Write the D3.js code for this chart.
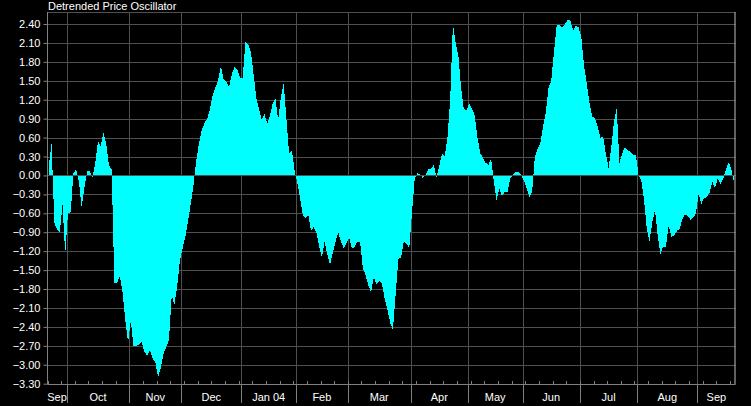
<!DOCTYPE html>
<html><head><meta charset="utf-8">
<script src="https://cdn.jsdelivr.net/npm/d3@7"></script>
<style>html,body{margin:0;padding:0;background:#000;}svg{display:block;}</style>
</head><body>
<script>
const monthLabels = ["Sep","Oct","Nov","Dec","Jan 04","Feb","Mar","Apr","May","Jun","Jul","Aug","Sep"];
const monthDays = [7,23,19,22,20,19,23,21,20,21,21,22,14];
const yTicks = [2.4,2.1,1.8,1.5,1.2,0.9,0.6,0.3,0,-0.3,-0.6,-0.9,-1.2,-1.5,-1.8,-2.1,-2.4,-2.7,-3.0,-3.3];
const dpo = [
0.17,0.51,-0.75,-0.85,-0.9,-0.47,-1.25,-0.6,-0.58,0.03,
0.1,-0.1,-0.5,-0.2,0.07,0.07,-0.03,0.2,0.55,0.46,
0.68,0.5,0.16,0.1,-1.7,-1.7,-1.6,-1.85,-2.3,-2.65,
-2.3,-2.7,-2.7,-2.68,-2.64,-2.8,-2.85,-2.77,-2.9,-2.96,
-3.2,-3.05,-2.82,-2.72,-2.6,-1.9,-2.05,-1.75,-1.35,-1.15,
-0.97,-0.72,-0.44,-0.15,0.24,0.51,0.72,0.83,0.9,1.05,
1.28,1.39,1.51,1.73,1.52,1.48,1.4,1.6,1.72,1.68,
1.55,1.55,2.11,2.08,1.95,1.6,1.22,1.05,0.88,0.97,
0.82,0.95,1.15,1.22,0.88,1.25,1.46,0.9,0.35,0.4,
0.08,-0.12,-0.35,-0.62,-0.68,-0.62,-0.87,-0.82,-0.9,-1.12,
-1.3,-1.05,-1.25,-1.42,-1.22,-1.05,-0.9,-1.05,-1.15,-1.08,
-0.98,-1.16,-1.13,-1.05,-1.05,-1.47,-1.58,-1.74,-1.85,-1.62,
-1.72,-1.67,-1.72,-1.95,-2.12,-2.33,-2.45,-1.9,-1.32,-1.3,
-1.05,-1.08,-1.15,-0.6,-0.05,0.04,0.01,-0.04,0.0,0.1,
0.1,0.17,-0.03,0.15,0.35,0.3,0.6,1.2,2.4,2.1,
1.9,1.39,1.05,1.04,1.14,1.06,0.95,0.6,0.35,0.28,
0.2,0.17,0.26,-0.1,-0.4,-0.2,-0.33,-0.25,-0.27,-0.05,
0.02,0.05,0.05,0.01,-0.08,-0.2,-0.34,-0.27,0.3,0.42,
0.5,0.78,1.0,1.38,1.5,1.95,2.38,2.38,2.35,2.39,
2.47,2.45,2.3,2.37,2.35,2.2,1.75,1.46,1.15,0.93,
0.91,0.78,0.6,0.62,0.35,0.12,0.45,0.85,1.07,0.2,
0.35,0.45,0.4,0.38,0.32,0.32,0.0,-0.08,-0.38,-0.85,
-1.04,-0.75,-0.55,-0.95,-1.25,-1.13,-1.13,-0.8,-0.97,-0.96,
-0.88,-0.85,-0.7,-0.62,-0.64,-0.7,-0.67,-0.6,-0.3,-0.45,
-0.36,-0.34,-0.27,-0.1,-0.2,-0.05,-0.13,-0.06,0.1,0.21,
0.1,-0.12
];

(function () {
const W = 751, H = 406;
const pL = 47.5, pR = 735.5, pT = 12, pB = 384;
const N = dpo.length;
const gridColor = "#505050";
const font = "Liberation Sans, Arial, sans-serif";

const svg = d3.select("body").append("svg").attr("width", W).attr("height", H)
  .style("background", "#000");

const x = d3.scaleLinear().domain([0, N]).range([pL, pR]);
const y = d3.scaleLinear().domain([-3.3, 2.4]).range([383.7, 24]);

const starts = [];
let acc = 0;
monthDays.forEach(d => { starts.push(acc); acc += d; });
const ends = starts.map((s, i) => s + monthDays[i]);

svg.append("g").selectAll("line").data(yTicks).join("line")
  .attr("x1", pL).attr("x2", pR)
  .attr("y1", d => Math.round(y(d)) + 0.5).attr("y2", d => Math.round(y(d)) + 0.5)
  .attr("stroke", gridColor).attr("stroke-width", 1);

svg.append("g").selectAll("line").data(starts.slice(1)).join("line")
  .attr("x1", d => Math.round(x(d)) + 0.5).attr("x2", d => Math.round(x(d)) + 0.5)
  .attr("y1", pT).attr("y2", pB)
  .attr("stroke", gridColor).attr("stroke-width", 1);

const area = d3.area()
  .x((d, i) => x(i + 0.5))
  .y0(y(0))
  .y1(d => y(d))
  .curve(d3.curveLinear);
svg.append("path").datum(dpo).attr("d", area)
  .attr("fill", "#00ffff").attr("shape-rendering", "crispEdges");

svg.append("line").attr("x1", pL).attr("x2", pR)
  .attr("y1", Math.round(y(0)) + 0.5).attr("y2", Math.round(y(0)) + 0.5)
  .attr("stroke", gridColor);

svg.append("line").attr("x1", pL).attr("x2", pR).attr("y1", pT + 0.5).attr("y2", pT + 0.5).attr("stroke", gridColor);
svg.append("line").attr("x1", pL).attr("x2", pL).attr("y1", pT).attr("y2", pB).attr("stroke", "#808080");
svg.append("line").attr("x1", pL).attr("x2", pR).attr("y1", pB + 0.5).attr("y2", pB + 0.5).attr("stroke", "#808080");
svg.append("line").attr("x1", pR - 0.5).attr("x2", pR - 0.5).attr("y1", pT).attr("y2", pB).attr("stroke", "#c0c0c0");

// weekly minor ticks along the bottom
const weekIdx = d3.range(0, N, 5);
svg.append("g").selectAll("line").data(weekIdx).join("line")
  .attr("x1", d => Math.round(x(d)) + 0.5).attr("x2", d => Math.round(x(d)) + 0.5)
  .attr("y1", pB - 3).attr("y2", pB)
  .attr("stroke", "#808080");

const yAxis = d3.axisLeft(y).tickValues(yTicks).tickFormat(d3.format(".2f")).tickSize(4).tickPadding(3);
const ya = svg.append("g").attr("transform", `translate(${pL},0)`).call(yAxis);
ya.select(".domain").remove();
ya.selectAll(".tick line").attr("stroke", "#808080");
ya.selectAll("text").attr("fill", "#ffffff").style("font-family", font).style("font-size", "11px");

svg.append("g").selectAll("line").data(starts.slice(1)).join("line")
  .attr("x1", d => Math.round(x(d)) + 0.5).attr("x2", d => Math.round(x(d)) + 0.5)
  .attr("y1", pB).attr("y2", 403)
  .attr("stroke", "#808080");
svg.append("g").selectAll("text").data(monthLabels).join("text")
  .attr("x", (d, i) => x((starts[i] + ends[i]) / 2))
  .attr("y", 401)
  .attr("text-anchor", "middle")
  .attr("fill", "#ffffff").style("font-family", font).style("font-size", "11px")
  .text(d => d);

svg.append("text").attr("x", 48).attr("y", 10).attr("fill", "#ffffff")
  .style("font-family", font).style("font-size", "11px").text("Detrended Price Oscillator");
})();
</script>
</body></html>
